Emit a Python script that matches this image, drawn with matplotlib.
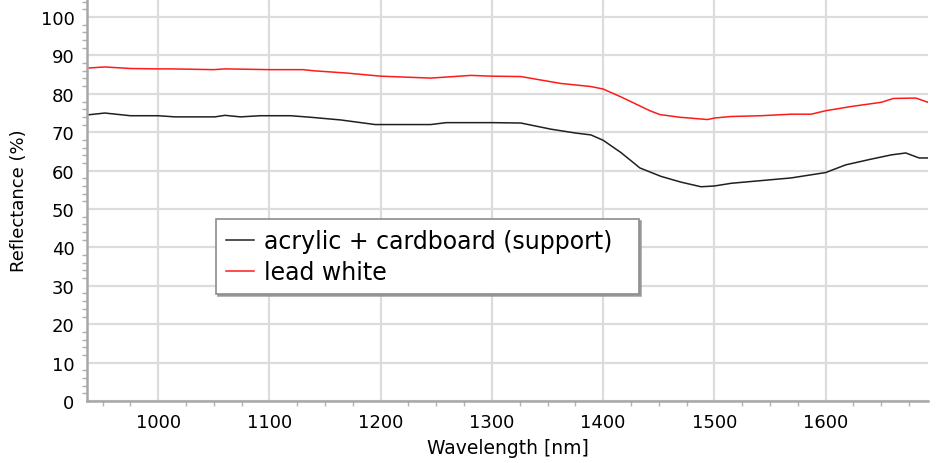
import matplotlib
matplotlib.use("Agg")
import matplotlib.pyplot as plt
from matplotlib.ticker import MultipleLocator

wavelength_acrylic = [936, 952, 975, 1000, 1015, 1051, 1060, 1074, 1092, 1119, 1137, 1164, 1195,
                      1245, 1259, 1300, 1326, 1353, 1375, 1389, 1400, 1416, 1433, 1452, 1470,
                      1488, 1500, 1515, 1542, 1569, 1600, 1618, 1641, 1659, 1672, 1684, 1692]
acrylic = [74.5, 75.0, 74.3, 74.3, 74.0, 74.0, 74.4, 74.0, 74.3, 74.3, 73.9, 73.2, 72.0,
           72.0, 72.5, 72.5, 72.4, 70.8, 69.8, 69.3, 67.9, 64.7, 60.7, 58.5, 57.0,
           55.8, 56.0, 56.7, 57.4, 58.1, 59.5, 61.5, 63.0, 64.1, 64.6, 63.3, 63.3]

wavelength_lead = [936, 952, 975, 1000, 1011, 1050, 1060, 1100, 1130, 1140, 1170, 1200,
                   1245, 1281, 1300, 1326, 1362, 1389, 1400, 1416, 1442, 1451, 1469,
                   1494, 1500, 1515, 1542, 1569, 1587, 1600, 1623, 1650, 1661, 1681, 1692]
lead_white = [86.7, 87.0, 86.6, 86.5, 86.5, 86.3, 86.5, 86.3, 86.3, 86.0, 85.4, 84.6,
              84.1, 84.8, 84.6, 84.5, 82.7, 81.9, 81.25, 79.2, 75.6, 74.6, 73.9,
              73.3, 73.7, 74.1, 74.3, 74.7, 74.7, 75.6, 76.7, 77.8, 78.8, 78.9, 77.8]

series_labels = ["acrylic + cardboard (support)", "lead white"]
x_label = "Wavelength [nm]"
y_label = "Reflectance (%)"

fig = plt.figure(figsize=(9.37, 4.64), dpi=100)
ax = fig.add_axes([87/937, 1 - 402/464, (928 - 87)/937, 402/464])

ax.plot(wavelength_acrylic, acrylic, color="#202020", lw=1.1, label=series_labels[0])
ax.plot(wavelength_lead, lead_white, color="#ff1a1a", lw=1.1, label=series_labels[1])

ax.set_xlim(936, 1692)
ax.set_ylim(0, 104.7)
ax.xaxis.set_major_locator(MultipleLocator(100))
ax.xaxis.set_minor_locator(MultipleLocator(25))
ax.yaxis.set_major_locator(MultipleLocator(10))
ax.yaxis.set_minor_locator(MultipleLocator(2))

ax.grid(True, which="major", color="#dcdcdc", lw=1.6)
ax.set_axisbelow(True)
for s in ["top", "right"]:
    ax.spines[s].set_visible(False)
for s in ["left", "bottom"]:
    ax.spines[s].set_color("#a8a8a8")
    ax.spines[s].set_linewidth(1.8)

ax.tick_params(which="major", length=0, labelsize=13, pad=9, colors="black")
ax.tick_params(which="minor", length=3.5, width=1, color="#b0b0b0")
ax.set_xlabel(x_label, fontsize=13.5, labelpad=5)
ax.set_ylabel(y_label, fontsize=13, labelpad=9)

leg_x0 = (216 - 87) / 841
leg_w = (639 - 216) / 841
leg_top = 1 - 220 / 402
leg = ax.legend(loc="upper left", bbox_to_anchor=(leg_x0, leg_top - 0.2, leg_w, 0.2),
                mode="expand", borderaxespad=0,
                fontsize=17, frameon=True, fancybox=False,
                shadow={"ox": 1.5, "oy": -1.5, "color": "#909090", "alpha": 0.8},
                edgecolor="#8c8c8c", framealpha=1, borderpad=0.42, handlelength=1.2,
                handletextpad=0.4, labelspacing=0.32)
leg.get_frame().set_linewidth(1.2)

fig.savefig("out.png", dpi=100)
